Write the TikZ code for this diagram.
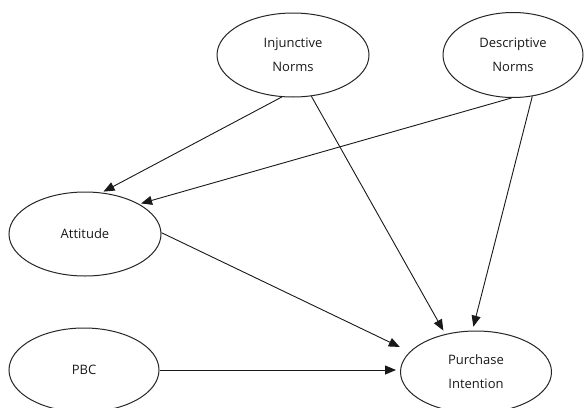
\documentclass[tikz,border=0pt]{standalone}
\usepackage{fontspec}
\setmainfont{Open Sans}
\usetikzlibrary{arrows.meta,shapes.geometric}
\begin{document}
\begin{tikzpicture}[x=1pt,y=-1pt,
  oval/.style={ellipse,draw=black!85,line width=1pt,inner sep=0pt,align=center,
    font=\fontsize{13}{24}\selectfont,text=black!90},
  link/.style={draw=black!90,line width=0.9pt,-{Triangle[length=11pt,width=9pt]}}]
\fill[white] (0,0) rectangle (585,407);
\useasboundingbox (0,0) rectangle (585,407);
\node[oval,minimum width=152pt,minimum height=84pt] (inj) at (293,55) {Injunctive\\Norms};
\node[oval,minimum width=140pt,minimum height=85pt] (des) at (513,55) {Descriptive\\Norms};
\node[oval,minimum width=152pt,minimum height=84pt] (att) at (85,234) {Attitude};
\node[oval,minimum width=150pt,minimum height=84pt] (pbc) at (84,370) {PBC};
\node[oval,minimum width=151pt,minimum height=82pt] (pi) at (476,372) {Purchase\\Intention};
\draw[link,shorten >=2pt] (inj.255) -- (att.68);
\draw[link,shorten >=2pt] (des.268) -- (att.29);
\draw[link,shorten >=4pt] (inj.294) -- (pi.129);
\draw[link,shorten >=4pt] (des.295) -- (pi.95);
\draw[link,shorten >=11pt] (att.1) -- (pi.163.5);
\draw[link,shorten >=4pt] (pbc.east) -- (pbc.east -| pi.west);
\end{tikzpicture}
\end{document}
